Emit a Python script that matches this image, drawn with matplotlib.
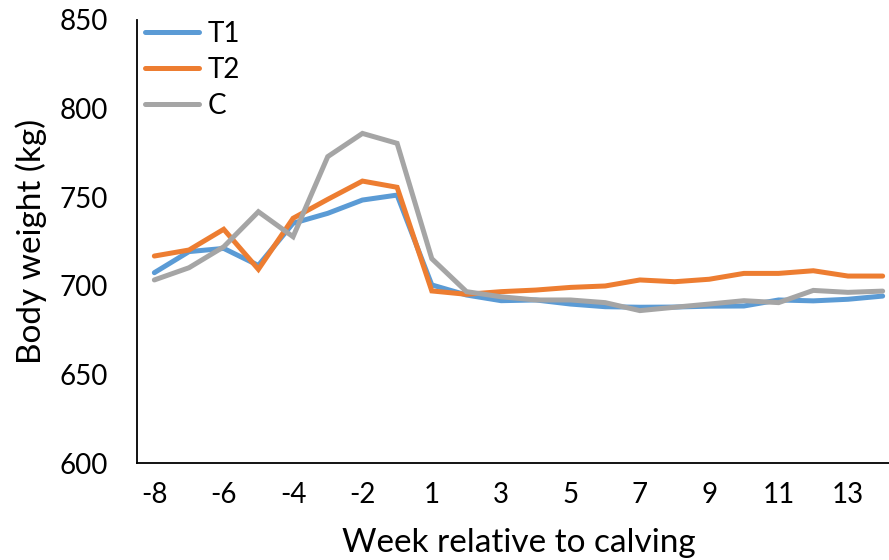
import matplotlib.pyplot as plt
import numpy as np

plt.rcParams['font.family'] = ['Lato', 'DejaVu Sans']

weeks = [-8, -7, -6, -5, -4, -3, -2, -1, 1, 2, 3, 4, 5, 6, 7, 8, 9, 10, 11, 12, 13, 14]
t1 = [707.4, 719.3, 721.1, 711.5, 735.3, 740.9, 748.4, 751.2, 700.5, 694.8, 691.6, 692.0,
      689.7, 688.2, 687.9, 688.0, 688.5, 688.6, 692.0, 691.5, 692.4, 694.2]
t2 = [716.8, 720.2, 731.9, 709.3, 738.1, 748.8, 759.1, 755.6, 697.1, 695.2, 696.7, 697.6,
      699.1, 699.9, 703.3, 702.3, 703.7, 707.0, 707.0, 708.5, 705.5, 705.5]
ctrl = [703.3, 710.2, 722.0, 741.8, 727.7, 772.9, 786.0, 780.4, 715.3, 696.7, 693.8, 692.0,
        692.0, 690.5, 686.0, 687.9, 689.7, 691.6, 690.5, 697.4, 696.3, 697.0]

series = [('T1', t1, '#5B9BD5'), ('T2', t2, '#ED7D31'), ('C', ctrl, '#A5A5A5')]

fig = plt.figure(figsize=(8.89, 5.6), dpi=100)
ax = fig.add_axes([137 / 889, 97 / 560, 763 / 889, 443 / 560])

x = np.arange(len(weeks))
for name, vals, col in series:
    ax.plot(x, vals, color=col, lw=3.6, label=name, solid_capstyle='round',
            solid_joinstyle='miter')

ax.set_xlim(-0.5, len(weeks) - 0.5)
ax.set_ylim(600, 850)
ax.set_yticks(np.arange(600, 851, 50))
ax.set_xticks(x[::2])
ax.set_xticklabels([str(w) for w in weeks[::2]])
ax.tick_params(axis='both', length=0, labelsize=20)
ax.tick_params(axis='y', pad=21)
ax.tick_params(axis='x', pad=14)

for s in ['top', 'right']:
    ax.spines[s].set_visible(False)
for s in ['left', 'bottom']:
    ax.spines[s].set_linewidth(1.3)
    ax.spines[s].set_color('black')

ax.set_xlabel('Week relative to calving', fontsize=24, labelpad=14)
ax.set_ylabel('Body weight (kg)', fontsize=24, labelpad=9)

ax.legend(loc='upper left', bbox_to_anchor=(145 / 889, 1 - 21 / 560),
          bbox_transform=fig.transFigure, frameon=False, fontsize=20,
          handlelength=1.95, handletextpad=0.3, labelspacing=0.36,
          borderaxespad=0, borderpad=0)

fig.savefig('out.png', dpi=100)
